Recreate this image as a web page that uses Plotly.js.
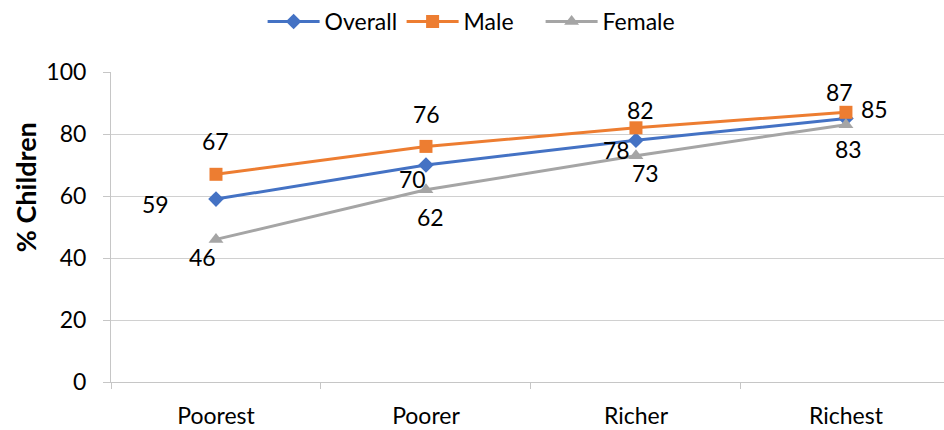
<!DOCTYPE html>
<html>
<head>
<meta charset="utf-8">
<script src="https://cdn.plot.ly/plotly-3.0.1.min.js"></script>
<style>
html,body{margin:0;padding:0;background:#fff;}
#chart{width:944px;height:430px;}
</style>
</head>
<body>
<div id="chart"></div>
<script>
// ---- data ----
var categories = ["Poorest", "Poorer", "Richer", "Richest"];
var overall = [59, 70, 78, 85];
var male = [67, 76, 82, 87];
var female = [46, 62, 73, 83];
var seriesNames = ["Overall", "Male", "Female"];
var yTickVals = [0, 20, 40, 60, 80, 100];
var yTitle = "% Children";

// ---- styles ----
var FONT = "Lato, 'Open Sans', sans-serif";
var FS = 23;
var colors = ["#4472C4", "#ED7D31", "#A5A5A5"];
var symbols = ["diamond", "square", "triangle-up"];
var msizes = [12, 13, 13];
// label offsets in px (dx, dy up)
var labelOffsets = [
  [[-60, -5], [-13, -14], [-19, -10], [29, 10]],
  [[0, 33], [1, 32], [5, 18], [-6, 20]],
  [[-13, -18], [5, -27], [10, -17], [3, -24]]
];

var seriesData = [overall, male, female];
var traces = seriesData.map(function (vals, i) {
  return {
    type: "scatter",
    mode: "lines+markers",
    name: seriesNames[i],
    x: categories,
    y: vals,
    line: {color: colors[i], width: 3},
    marker: {color: colors[i], symbol: symbols[i], size: msizes[i]},
    hoverinfo: "skip"
  };
});

var annotations = [];
seriesData.forEach(function (vals, i) {
  vals.forEach(function (v, j) {
    annotations.push({
      x: categories[j], y: v, xref: "x", yref: "y",
      text: String(v), showarrow: false,
      xanchor: "center", yanchor: "middle",
      xshift: labelOffsets[i][j][0], yshift: labelOffsets[i][j][1],
      font: {family: FONT, size: FS, color: "#000"}
    });
  });
});
annotations.push({
  xref: "paper", yref: "paper", x: -0.103, y: 0.629,
  xanchor: "center", yanchor: "middle", textangle: -90,
  text: "<b>" + yTitle + "</b>", showarrow: false,
  font: {family: FONT, size: 27, color: "#000"}
});

var layout = {
  width: 944, height: 430,
  margin: {l: 111, r: 0, t: 72, b: 48},
  paper_bgcolor: "#fff", plot_bgcolor: "#fff",
  font: {family: FONT, size: FS, color: "#000"},
  showlegend: true,
  legend: {
    orientation: "h", xref: "paper", yref: "container",
    x: 0.182, xanchor: "left", y: 1.0, yanchor: "top",
    font: {family: FONT, size: FS, color: "#000"},
    itemwidth: 52, traceorder: "normal",
    entrywidth: 72, entrywidthmode: "pixels"
  },
  xaxis: {
    type: "category", range: [-0.5, 3.467],
    showline: true, linecolor: "#C6C6C6", linewidth: 1,
    ticks: "outside", tickson: "boundaries", ticklen: 6, tickcolor: "#C6C6C6",
    showgrid: false, zeroline: false, ticklabelstandoff: 13,
    tickfont: {family: FONT, size: FS, color: "#000"}
  },
  yaxis: {
    range: [0, 100], tickvals: yTickVals,
    showline: true, linecolor: "#C6C6C6", linewidth: 1,
    ticks: "outside", ticklen: 7, tickcolor: "#C6C6C6",
    showgrid: true, gridcolor: "#D0D0D0", gridwidth: 1, zeroline: false,
    ticklabelstandoff: 12,
    tickfont: {family: FONT, size: FS, color: "#000"}
  },
  annotations: annotations
};

Plotly.newPlot("chart", traces, layout, {displayModeBar: false, staticPlot: true});
</script>
</body>
</html>
